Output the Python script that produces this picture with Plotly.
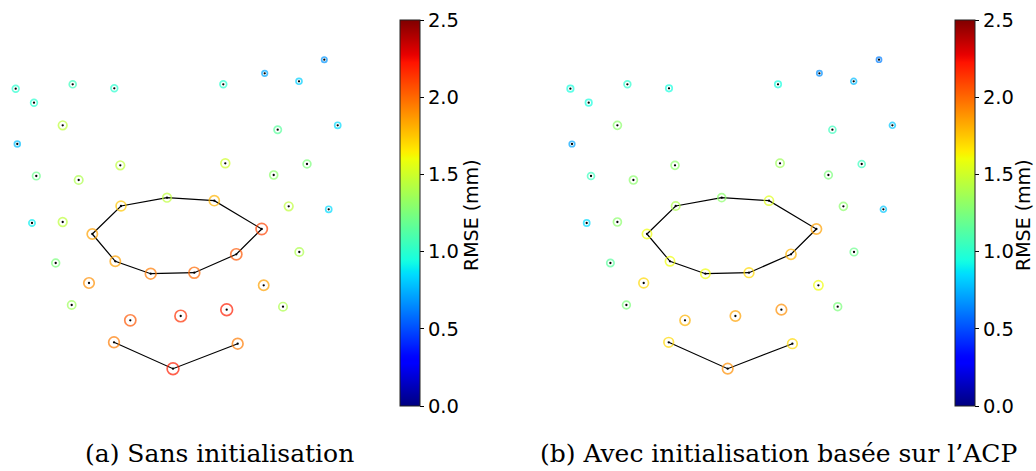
import numpy as np
import plotly.graph_objects as go

# Landmark positions (shared by both panels), image-like units, y pointing down
x_landmark = [15.7, 34.0, 72.7, 114.3, 223.3, 264.7, 299.0, 324.3,
              62.7, 277.7, 337.7, 17.3, 120.3, 225.3, 307.0, 36.3, 78.7, 273.7,
              288.7, 328.7, 32.0, 62.7,
              92.3, 121.0, 167.0, 214.3, 261.7, 236.3, 194.3, 150.7, 115.3,
              299.3, 55.7, 89.0, 263.7, 71.7, 283.0, 130.3, 180.7, 226.7,
              114.0, 173.0, 237.7]
y_landmark = [88.7, 102.7, 84.3, 88.3, 84.3, 73.3, 81.3, 59.7,
              125.3, 129.7, 125.3, 144.0, 165.3, 163.3, 164.0, 176.0, 180.0, 175.0,
              206.3, 209.3, 223.0, 222.0,
              234.0, 206.0, 197.7, 200.7, 229.0, 254.3, 272.7, 273.7, 261.3,
              252.0, 263.0, 283.0, 285.3, 305.0, 306.7, 320.3, 316.0, 309.7,
              342.3, 368.7, 343.7]

# RMSE per landmark (mm)
rmse_sans_init = [1.0, 1.0, 1.05, 1.0, 1.0, 0.72, 0.82, 0.68,
                  1.45, 1.15, 0.85, 0.78, 1.45, 1.5, 1.25, 1.2, 1.4, 1.3,
                  1.45, 0.85, 0.9, 1.45,
                  1.85, 1.75, 1.45, 1.8, 2.1, 2.05, 2.0, 1.95, 1.85,
                  1.4, 1.25, 1.9, 1.85, 1.35, 1.4, 2.05, 2.15, 2.2,
                  1.95, 2.2, 1.95]
rmse_acp_init = [0.95, 0.95, 1.0, 0.95, 0.95, 0.66, 0.77, 0.62,
                 1.3, 1.05, 0.8, 0.72, 1.3, 1.35, 1.05, 1.05, 1.3, 1.25,
                 1.3, 0.8, 0.85, 1.3,
                 1.6, 1.4, 1.3, 1.55, 1.85, 1.8, 1.7, 1.6, 1.6,
                 1.2, 1.15, 1.7, 1.6, 1.25, 1.25, 1.8, 1.85, 1.9,
                 1.7, 1.9, 1.7]

mouth_idx = [22, 23, 24, 25, 26, 27, 28, 29, 30, 22]
chin_idx = [40, 41, 42]

panel_titles = ["(a) Sans initialisation", "(b) Avec initialisation basée sur l’ACP"]
cbar_title = "RMSE (mm)"
cbar_ticks = [0.0, 0.5, 1.0, 1.5, 2.0, 2.5]

# matplotlib "jet" segment data turned into a plotly colorscale
def jet_scale(n=101):
    t = np.linspace(0, 1, n)
    r = np.interp(t, [0, 0.35, 0.66, 0.89, 1], [0, 0, 1, 1, 0.5])
    g = np.interp(t, [0, 0.125, 0.375, 0.64, 0.91, 1], [0, 0, 1, 1, 0, 0])
    b = np.interp(t, [0, 0.11, 0.34, 0.65, 1], [0.5, 1, 1, 0, 0])
    return [[float(v), f"rgb({int(round(rr*255))},{int(round(gg*255))},{int(round(bb*255))})"]
            for v, rr, gg, bb in zip(t, r, g, b)]

JET = jet_scale()
W, H = 1036, 471
panel_left = [0.0, 554.7]
panel_w = 370.0
cbar_left = [400.0, 955.0]
cbar_title_x = [471.0, 1023.0]
caption_x = [219.0, 778.0]

fig = go.Figure()
for k, rmse in enumerate([rmse_sans_init, rmse_acp_init]):
    xa = "x" if k == 0 else "x2"
    ya = "y" if k == 0 else "y2"
    for idx in (mouth_idx, chin_idx):
        fig.add_trace(go.Scatter(
            x=[x_landmark[i] for i in idx], y=[y_landmark[i] for i in idx],
            mode="lines", line=dict(color="black", width=1.2),
            xaxis=xa, yaxis=ya, showlegend=False, hoverinfo="skip"))
    # error rings: size grows with the RMSE of each landmark
    fig.add_trace(go.Scatter(
        x=x_landmark, y=y_landmark, mode="markers",
        marker=dict(symbol="circle-open", size=[2.5 + 4.2 * v for v in rmse],
                    color=rmse, colorscale=JET, cmin=0, cmax=2.5,
                    line=dict(width=1.7),
                    colorbar=dict(
                        x=cbar_left[k] / W, xanchor="left", xpad=0,
                        y=1 - 20 / H, yanchor="top", ypad=0,
                        len=386, lenmode="pixels",
                        thickness=20, thicknessmode="pixels",
                        outlinewidth=1, outlinecolor="#222",
                        tickvals=cbar_ticks, ticktext=[f"{v:.1f}" for v in cbar_ticks],
                        ticks="outside", ticklen=4, tickwidth=1, tickcolor="black",
                        tickfont=dict(family="DejaVu Sans", size=19.5, color="black"))),
        xaxis=xa, yaxis=ya, showlegend=False))
    fig.add_trace(go.Scatter(
        x=x_landmark, y=y_landmark, mode="markers",
        marker=dict(size=2.3, color="black"),
        xaxis=xa, yaxis=ya, showlegend=False, hoverinfo="skip"))
    # colour-bar label, rotated along the bar
    fig.add_annotation(
        x=cbar_title_x[k] / W, y=1 - 215 / H,
        xref="paper", yref="paper", text=cbar_title, showarrow=False,
        textangle=-90, xanchor="center", yanchor="middle",
        font=dict(family="DejaVu Sans", size=19, color="black"))
    fig.add_annotation(
        x=caption_x[k] / W, y=1 - 453 / H,
        xref="paper", yref="paper", text=panel_titles[k], showarrow=False,
        xanchor="center", yanchor="middle",
        font=dict(family="DejaVu Serif", size=25, color="black"))

axis_off = dict(visible=False, showgrid=False, zeroline=False, fixedrange=True)
fig.update_layout(
    width=W, height=H, margin=dict(l=0, r=0, t=0, b=0, autoexpand=False),
    paper_bgcolor="white", plot_bgcolor="white",
    xaxis=dict(axis_off, domain=[panel_left[0] / W, (panel_left[0] + panel_w) / W], range=[0, panel_w]),
    xaxis2=dict(axis_off, domain=[panel_left[1] / W, (panel_left[1] + panel_w) / W], range=[0, panel_w]),
    yaxis=dict(axis_off, domain=[0, 1], range=[H, 0]),
    yaxis2=dict(axis_off, domain=[0, 1], range=[H, 0], anchor="x2"),
)
fig.write_html("out.html")
